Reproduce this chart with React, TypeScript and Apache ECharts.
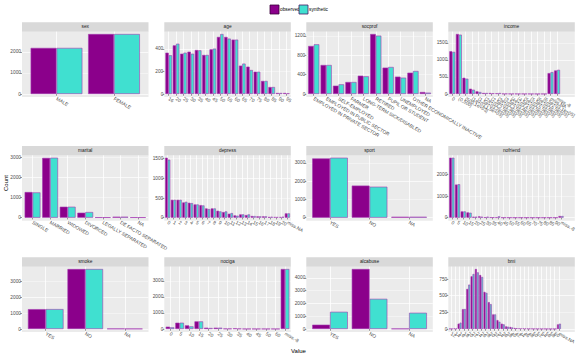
import React, { useEffect, useRef } from 'react';
import * as echarts from 'echarts';

// ---------- data ----------
const sexCats = ['MALE', 'FEMALE'];
const sexObs = [2189, 2850];
const sexSyn = [2189, 2850];

const ageCats = ['16', '20', '25', '30', '35', '40', '45', '50', '55', '60', '65', '70', '75', '80', '85', '90', '95'];
const ageObs = [367, 432, 358, 376, 391, 347, 397, 507, 507, 483, 252, 243, 198, 116, 62, 9, 9];
const ageSyn = [344, 447, 367, 358, 388, 347, 403, 533, 492, 483, 270, 213, 198, 116, 62, 9, 6];

const socprofCats = ['EMPLOYED IN PRIVATE SECTOR', 'EMPLOYED IN PUBLIC SECTOR', 'SELF-EMPLOYED', 'FARMER', 'LONG-TERM SICK/DISABLED', 'RETIRED', 'PUPIL OR STUDENT', 'UNEMPLOYED', 'OTHER ECONOMICALLY INACTIVE', 'NA'];
const socprofObs = [993, 600, 172, 248, 379, 1241, 545, 359, 441, 41];
const socprofSyn = [1028, 600, 200, 248, 366, 1207, 559, 338, 476, 28];

const incomeCats = ['0', '(0,500]', '(500,1e+03]', '(1e+03,1.5e+03]', '(1.5e+03,2e+03]', '(2e+03,2.5e+03]', '(2.5e+03,3e+03]', '(3e+03,3.5e+03]', '(3.5e+03,4e+03]', '(4e+03,4.5e+03]', '(4.5e+03,5e+03]', '(5e+03,5.5e+03]', '(5.5e+03,6e+03]', '(6e+03,6.5e+03]', '(6.5e+03,1e+05]', 'miss.NA', 'miss.-8'];
const incomeObs = [1252, 1757, 476, 155, 78, 29, 29, 20, 8, 6, 5, 5, 4, 3, 3, 612, 689];
const incomeSyn = [1233, 1738, 447, 126, 58, 29, 20, 29, 8, 5, 5, 4, 4, 3, 3, 641, 709];

const maritalCats = ['SINGLE', 'MARRIED', 'WIDOWED', 'DIVORCED', 'LEGALLY SEPARATED', 'DE FACTO SEPARATED', 'NA'];
const maritalObs = [1277, 2980, 547, 249, 17, 50, 17];
const maritalSyn = [1260, 2990, 547, 282, 17, 50, 17];

const depressCats = ['0', '1', '2', '3', '4', '5', '6', '7', '8', '9', '10', '11', '12', '13', '14', '15', '16', '17', '18', '19', '20', 'miss.NA'];
const depressObs = [1526, 455, 455, 388, 380, 337, 320, 236, 236, 177, 143, 101, 59, 84, 67, 42, 34, 34, 17, 17, 17, 110];
const depressSyn = [1476, 455, 455, 405, 371, 337, 312, 219, 236, 160, 160, 118, 51, 84, 84, 42, 34, 34, 25, 17, 25, 110];

const sportCats = ['YES', 'NO', 'NA'];
const sportObs = [3250, 1760, 50];
const sportSyn = [3290, 1700, 50];

const nofriendCats = ['0', '5', '10', '15', '20', '25', '30', '35', '40', '45', '50', '55', '60', '65', '70', '75', '80', '85', '90', 'miss.-8'];
const nofriendObs = [2785, 1538, 292, 246, 46, 62, 15, 15, 10, 5, 5, 3, 3, 3, 3, 3, 3, 3, 3, 77];
const nofriendSyn = [2785, 1554, 292, 231, 46, 46, 46, 15, 62, 5, 5, 3, 3, 3, 3, 3, 3, 3, 3, 77];

const smokeCats = ['YES', 'NO', 'NA'];
const smokeObs = [1240, 3747, 20];
const smokeSyn = [1245, 3750, 15];

const nocigaCats = ['0', '5', '10', '15', '20', '25', '30', '35', '40', '45', '50', '60', 'miss.-8'];
const nocigaObs = [145, 393, 228, 476, 83, 83, 20, 41, 5, 5, 5, 5, 3747];
const nocigaSyn = [104, 393, 166, 476, 62, 83, 20, 20, 5, 5, 5, 5, 3747];

const alcabuseCats = ['YES', 'NO', 'NA'];
const alcabuseObs = [338, 4700, 26];
const alcabuseSyn = [1350, 2364, 1273];

const bmiCats = ['12', '14', '16', '18', '20', '22', '24', '26', '28', '30', '32', '34', '36', '38', '40', '42', '44', '46', '48', '50', '52', '54', '56', '58', '60', 'miss.NA'];
const bmiObs = [3, 8, 80, 298, 601, 790, 900, 810, 557, 403, 219, 134, 80, 40, 30, 15, 10, 8, 5, 4, 3, 2, 2, 1, 1, 70];
const bmiSyn = [3, 6, 95, 300, 666, 825, 850, 780, 542, 373, 219, 109, 70, 35, 22, 12, 10, 6, 4, 3, 3, 2, 1, 1, 1, 80];

const legendNames = ['observed', 'synthetic'];

type Panel = { name: string; cats: string[]; obs: number[]; syn: number[]; step: number };
const panels: Panel[] = [
  { name: 'sex', cats: sexCats, obs: sexObs, syn: sexSyn, step: 1000 },
  { name: 'age', cats: ageCats, obs: ageObs, syn: ageSyn, step: 200 },
  { name: 'socprof', cats: socprofCats, obs: socprofObs, syn: socprofSyn, step: 400 },
  { name: 'income', cats: incomeCats, obs: incomeObs, syn: incomeSyn, step: 500 },
  { name: 'marital', cats: maritalCats, obs: maritalObs, syn: maritalSyn, step: 1000 },
  { name: 'depress', cats: depressCats, obs: depressObs, syn: depressSyn, step: 500 },
  { name: 'sport', cats: sportCats, obs: sportObs, syn: sportSyn, step: 1000 },
  { name: 'nofriend', cats: nofriendCats, obs: nofriendObs, syn: nofriendSyn, step: 1000 },
  { name: 'smoke', cats: smokeCats, obs: smokeObs, syn: smokeSyn, step: 1000 },
  { name: 'nociga', cats: nocigaCats, obs: nocigaObs, syn: nocigaSyn, step: 1000 },
  { name: 'alcabuse', cats: alcabuseCats, obs: alcabuseObs, syn: alcabuseSyn, step: 1000 },
  { name: 'bmi', cats: bmiCats, obs: bmiObs, syn: bmiSyn, step: 250 },
];

// ---------- styling ----------
const FONT = 'Liberation Sans, Arial, sans-serif';
const OBS = '#8B008B';
const SYN = '#40E0D0';
const BORDER = '#A43AB2';
const PANEL_BG = '#EBEBEB';
const STRIP_BG = '#D9D9D9';
const TXT = '#4D4D4D';
const FS = 4.8;

const W = 126.5;
const H = 66;
const STRIP = 8.7;
const colLeft = [22, 164.3, 306.3, 448.3];
const stripTop = [22.3, 146, 257.3];

function buildOption() {
  const grid: any[] = [];
  const xAxis: any[] = [];
  const yAxis: any[] = [];
  const series: any[] = [];
  const graphics: any[] = [];

  panels.forEach((p, i) => {
    const r = Math.floor(i / 4);
    const c = i % 4;
    const left = colLeft[c];
    const sTop = stripTop[r];
    const top = sTop + STRIP;
    const n = p.cats.length;
    const M = Math.max(...p.obs, ...p.syn);
    const hi = 1.05 * M;
    const lo = -0.05 * M;
    const u = W / (n + 0.2);
    const majors: number[] = [];
    for (let v = 0; v <= hi; v += p.step) majors.push(v);

    // grid A: horizontal grid lines + y labels
    grid.push({ left, top, width: W, height: (H * 1.05) / 1.1 });
    // grid B: bars + x axis
    grid.push({ left: left + 0.1 * u, top, width: n * u, height: H });

    xAxis.push({ gridIndex: 2 * i, type: 'category', data: [''], show: false });
    xAxis.push({
      gridIndex: 2 * i + 1,
      type: 'category',
      data: p.cats,
      axisLine: { show: false },
      axisTick: { show: true, alignWithLabel: true, length: 1.8, lineStyle: { color: '#333333', width: 0.5 } },
      axisLabel: { interval: 0, rotate: -30, fontSize: FS, color: TXT, margin: 1.5, fontFamily: FONT },
      splitLine: { show: true, alignWithLabel: true, lineStyle: { color: '#FFFFFF', width: 0.8 } },
    });

    yAxis.push({
      gridIndex: 2 * i,
      type: 'value',
      min: 0,
      max: hi,
      interval: p.step / 2,
      axisLine: { show: false },
      axisTick: { show: true, length: 1.8, customValues: majors, lineStyle: { color: '#333333', width: 0.5 } },
      axisLabel: {
        customValues: majors,
        fontSize: FS,
        color: TXT,
        margin: 1,
        fontFamily: FONT,
        formatter: (v: number) => {
          const k = v / p.step;
          return Math.abs(k - Math.round(k)) < 1e-6 ? String(Math.round(v)) : '';
        },
      },
      splitLine: { show: true, lineStyle: { color: ['#FFFFFF', '#F6F6F6'], width: 0.7 } },
    });
    yAxis.push({ gridIndex: 2 * i + 1, type: 'value', min: lo, max: hi, show: false, splitLine: { show: false } });

    series.push({
      type: 'bar',
      name: legendNames[0],
      xAxisIndex: 2 * i + 1,
      yAxisIndex: 2 * i + 1,
      data: p.obs,
      barGap: '0%',
      barCategoryGap: '10%',
      itemStyle: { color: OBS, borderColor: BORDER, borderWidth: 0.6 },
    });
    series.push({
      type: 'bar',
      name: legendNames[1],
      xAxisIndex: 2 * i + 1,
      yAxisIndex: 2 * i + 1,
      data: p.syn,
      barGap: '0%',
      barCategoryGap: '10%',
      itemStyle: { color: SYN, borderColor: BORDER, borderWidth: 0.6 },
    });

    graphics.push({ type: 'rect', z: -10, silent: true, shape: { x: left, y: top, width: W, height: H }, style: { fill: PANEL_BG } });
    graphics.push({ type: 'rect', z: 100, silent: true, shape: { x: left, y: sTop, width: W, height: STRIP + 0.5 }, style: { fill: STRIP_BG } });
    graphics.push({
      type: 'text', z: 101, silent: true, x: left + W / 2, y: sTop + STRIP / 2 + 0.3,
      style: { text: p.name, fontSize: FS, fill: '#1A1A1A', align: 'center', verticalAlign: 'middle', fontFamily: FONT },
    });
  });

  // axis titles
  graphics.push({
    type: 'text', z: 101, silent: true, x: 5.5, y: 183, rotation: Math.PI / 2,
    style: { text: 'Count', fontSize: 6, fill: '#000000', align: 'center', verticalAlign: 'middle', fontFamily: FONT },
  });
  graphics.push({
    type: 'text', z: 101, silent: true, x: 298.5, y: 351,
    style: { text: 'Value', fontSize: 6, fill: '#000000', align: 'center', verticalAlign: 'middle', fontFamily: FONT },
  });

  // legend
  graphics.push({ type: 'rect', z: 101, silent: true, shape: { x: 270, y: 5, width: 9, height: 9 }, style: { fill: OBS, stroke: '#3A003A', lineWidth: 0.8 } });
  graphics.push({
    type: 'text', z: 101, silent: true, x: 280, y: 9.6,
    style: { text: legendNames[0], fontSize: FS, fill: '#000000', align: 'left', verticalAlign: 'middle', fontFamily: FONT },
  });
  graphics.push({ type: 'rect', z: 101, silent: true, shape: { x: 299, y: 5, width: 9, height: 9 }, style: { fill: SYN, stroke: '#4A1A66', lineWidth: 0.8 } });
  graphics.push({
    type: 'text', z: 101, silent: true, x: 309, y: 9.6,
    style: { text: legendNames[1], fontSize: FS, fill: '#000000', align: 'left', verticalAlign: 'middle', fontFamily: FONT },
  });

  return {
    animation: false,
    backgroundColor: '#FFFFFF',
    textStyle: { fontFamily: FONT },
    grid,
    xAxis,
    yAxis,
    series,
    graphic: { elements: graphics },
  };
}

export default function App() {
  const ref = useRef<HTMLDivElement>(null);
  useEffect(() => {
    if (!ref.current) return;
    const chart = echarts.init(ref.current, undefined, { renderer: 'svg' });
    chart.setOption(buildOption() as any);
    return () => chart.dispose();
  }, []);
  return <div ref={ref} style={{ position: 'absolute', left: 0, top: 0, width: 578, height: 358 }} />;
}
